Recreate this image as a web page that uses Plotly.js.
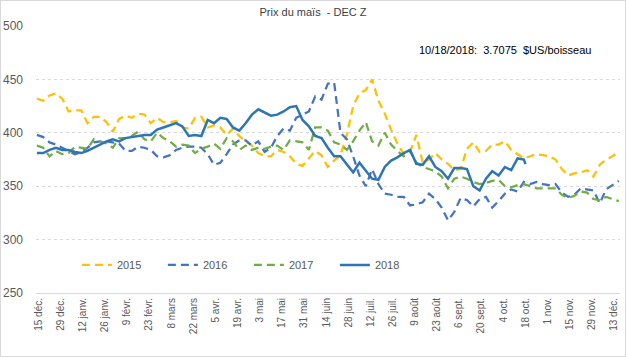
<!DOCTYPE html>
<html>
<head>
<meta charset="utf-8">
<script src="https://cdn.plot.ly/plotly-3.0.1.min.js"></script>
<style>
html,body{margin:0;padding:0;background:#fff;}
#wrap{position:relative;width:626px;height:357px;}
#frame{position:absolute;left:0;top:0;width:624px;height:355px;border:1px solid #d9d9d9;pointer-events:none;}
</style>
</head>
<body>
<div id="wrap"><div id="chart" style="width:626px;height:357px;"></div><div id="frame"></div></div>
<script>
// Day offsets from 15 déc. (sample days)
const days = [-1,3,7,11,15,19,23,27,31,35,39,43,47,51,55,59,63,67,71,75,79,83,87,91,95,99,103,107,111,115,119,123,127,131,135,139,143,147,151,155,159,163,167,171,175,179,183,187,191,195,199,203,207,211,215,219,223,227,231,235,239,243,247,251,255,259,263,267,271,275,279,283,287,291,295,299,303,307,311,315,319,323,327,331,335,339,343,347,351,355,359,363,367];
const days2018 = [-1,3,7,11,15,19,23,27,31,35,39,43,47,51,55,59,63,67,71,75,79,83,87,91,95,99,103,107,111,115,119,123,127,131,135,139,143,147,151,155,159,163,167,171,175,179,183,187,191,195,199,203,207,211,215,219,223,227,231,235,239,243,247,251,255,259,263,267,271,275,279,283,287,291,295,299,303,307,308];

const y2015 = [432,430,435,437,432,420,421,421,409,415,415,410,401,413,416,414,418,417,409,
  414,410,410,411,405,404,414,415,405,407,405,398,404,397,392,388,381,378,
  378,384,382,378,371,369,376,383,379,368,374,379,398,425,437,440,450,430,418,
  403,390,380,382,398,372,375,381,375,371,365,366,385,391,382,383,389,389,392,384,380,376,378,380,379,378,375,366,360,362,363,365,359,370,375,378,382];

const y2016 = [398,396,391,389,386,383,380,382,386,391,392,392,391,390,383,383,387,386,384,
  378,377,379,384,386,387,387,386,380,370,372,380,389,393,393,388,392,382,
  386,397,404,402,414,417,420,434,431,446,447,400,394,378,360,350,366,352,343,
  342,340,340,332,333,335,343,338,330,318,326,339,337,331,338,340,330,336,343,347,345,354,352,354,352,351,352,344,340,342,348,347,346,334,347,351,355];

const y2017 = [388,386,378,383,380,381,387,386,385,394,392,390,386,395,395,397,401,394,392,
  400,395,392,387,389,388,381,385,387,390,385,395,392,384,388,384,386,385,
  387,388,384,393,392,391,384,405,405,402,391,389,384,392,402,410,392,388,400,
  389,383,378,383,372,368,366,364,359,348,357,359,357,354,352,353,355,356,350,349,351,352,350,348,348,348,348,342,339,341,345,344,338,337,340,338,336];

const y2018 = [381,381,384,386,384,384,382,381,383,386,389,392,394,392,395,396,397,398,398,
  403,405,407,409,406,397,398,397,412,409,414,413,405,402,409,417,422,419,
  416,417,420,424,425,412,406,397,395,386,378,378,371,363,372,364,357,356,368,
  374,377,381,384,371,370,378,368,364,357,367,367,366,350,346,357,364,360,368,365,376,375,370.75];

const seriesNames = ['2015','2016','2017','2018'];
const tickLabels = ['15 déc.','29 déc.','12 janv.','26 janv.','9 févr.','23 févr.','8 mars','22 mars','5 avr.','19 avr.','3 mai','17 mai','31 mai','14 juin','28 juin','12 juil.','26 juil.','9 août','23 août','6 sept.','20 sept.','4 oct.','18 oct.','1 nov.','15 nov.','29 nov.','13 déc.'];
const yTicks = [250,300,350,400,450,500];

const base = Date.UTC(2015,11,15);
const toDate = d => new Date(base + d*86400000).toISOString().slice(0,10);
const xs = days.map(toDate);
const xs2018 = days2018.map(toDate);
const tickVals = tickLabels.map((_,i)=>toDate(i*14));

const font = "'Liberation Sans', Arial, sans-serif";
const traces = [
  {x: xs, y: y2015, name: seriesNames[0], mode:'lines', line:{color:'#FFC000', width:2.25, dash:'8px,5px'}},
  {x: xs, y: y2016, name: seriesNames[1], mode:'lines', line:{color:'#4472C4', width:2.25, dash:'8px,5px'}},
  {x: xs, y: y2017, name: seriesNames[2], mode:'lines', line:{color:'#70AD47', width:2.25, dash:'8px,5px'}},
  {x: xs2018, y: y2018, name: seriesNames[3], mode:'lines', line:{color:'#2E75B6', width:2.5}}
];

const layout = {
  width: 626, height: 357,
  margin: {l:36, r:6, t:26, b:64},
  paper_bgcolor:'#fff', plot_bgcolor:'#fff',
  font: {family: font, size: 11, color:'#595959'},
  title: {text:'Prix du maïs  - DEC Z', x:0.5, xref:'container', y:0.966, yref:'container', yanchor:'middle', font:{family:font, size:11, color:'#404040'}},
  xaxis: {
    type:'date', range:['2015-12-13 10:00','2016-12-16 19:00'],
    tickmode:'array', tickvals: tickVals, ticktext: tickLabels, tickangle:-90,
    tickfont:{size:10, color:'#595959'}, showgrid:false, zeroline:false,
    showline:true, linecolor:'#d9d9d9', linewidth:1, ticks:''
  },
  yaxis: {
    range:[250,500], tickmode:'array', tickvals:yTicks, ticks:'',
    tickfont:{size:12, color:'#595959'}, showgrid:true, gridcolor:'#d9d9d9', griddash:'dot', gridwidth:1,
    zeroline:false, showline:false, ticklabelstandoff:12
  },
  showlegend:true,
  legend:{orientation:'h', x:0.07, xanchor:'left', y:0.105, yanchor:'middle', bgcolor:'rgba(0,0,0,0)',
    font:{size:11, color:'#595959'}, entrywidth:41, entrywidthmode:'pixels', traceorder:'normal'},
  annotations:[{xref:'paper', yref:'paper', x:0.652, y:0.91, xanchor:'left', yanchor:'middle', showarrow:false,
    text:'10/18/2018:  3.7075  $US/boisseau', font:{family:font, size:11, color:'#000'}}]
};

Plotly.newPlot('chart', traces, layout, {displayModeBar:false, staticPlot:true});
</script>
</body>
</html>
